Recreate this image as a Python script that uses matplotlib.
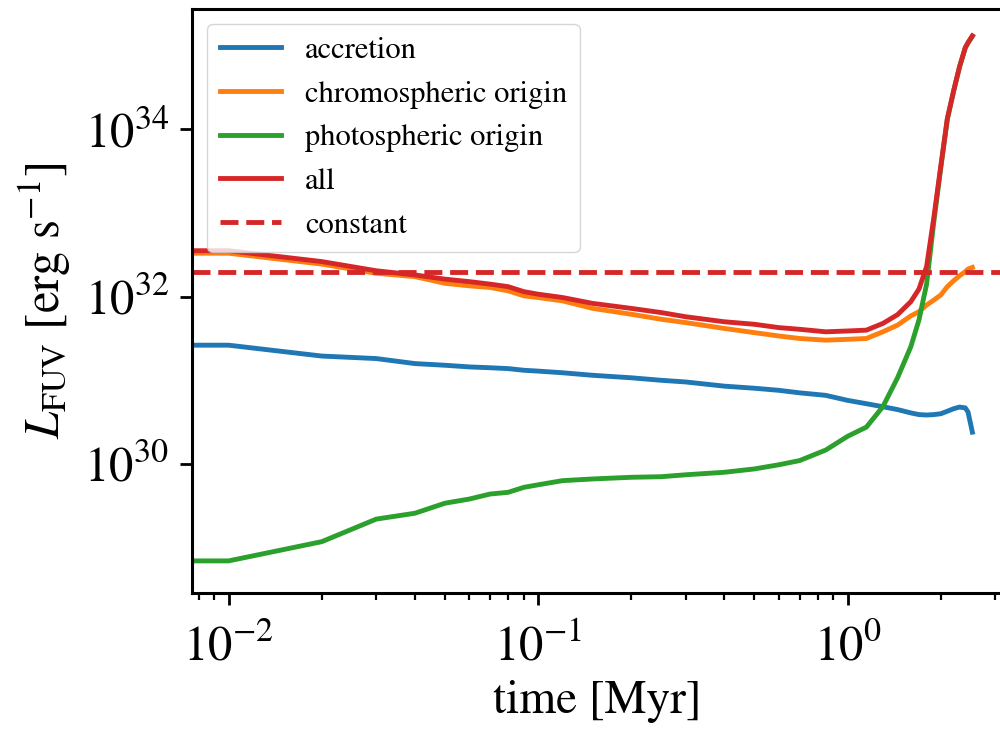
import numpy as np
import matplotlib
matplotlib.use("Agg")
import matplotlib.pyplot as plt
from matplotlib.ticker import NullLocator

plt.rcParams["font.family"] = "STIXGeneral"
plt.rcParams["mathtext.fontset"] = "stix"

# time grid [Myr]
time = [0.005, 0.01, 0.02, 0.03, 0.04, 0.05, 0.06, 0.07, 0.08, 0.09, 0.1,
        0.12, 0.15, 0.2, 0.25, 0.3, 0.4, 0.5, 0.6, 0.7, 0.85, 1.0, 1.15,
        1.3, 1.45, 1.6, 1.7, 1.8, 1.9, 2.0, 2.1, 2.2, 2.3, 2.4, 2.45, 2.53]

# log10 of the FUV luminosity [erg/s] for each contribution
log_acc = [31.42, 31.42, 31.29, 31.26, 31.20, 31.18, 31.16, 31.15, 31.14,
           31.12, 31.11, 31.09, 31.06, 31.03, 31.00, 30.98, 30.93, 30.905,
           30.88, 30.85, 30.82, 30.76, 30.72, 30.684, 30.65, 30.61, 30.59,
           30.585, 30.59, 30.60, 30.63, 30.66, 30.68, 30.67, 30.62, 30.38]
log_chromo = [32.52, 32.52, 32.39, 32.28, 32.24, 32.16, 32.13, 32.11, 32.07,
              32.01, 31.99, 31.95, 31.86, 31.79, 31.73, 31.69, 31.62, 31.57,
              31.53, 31.50, 31.48, 31.49, 31.50, 31.58, 31.66, 31.77, 31.82,
              31.90, 31.96, 32.02, 32.12, 32.19, 32.25, 32.30, 32.33, 32.35]
log_photo = [28.84, 28.84, 29.07, 29.34, 29.41, 29.53, 29.58, 29.64, 29.66,
             29.72, 29.75, 29.80, 29.82, 29.84, 29.847, 29.87, 29.90, 29.94,
             29.99, 30.04, 30.166, 30.33, 30.44, 30.684, 31.03, 31.40, 31.72,
             32.15, 32.90, 33.54, 34.12, 34.455, 34.75, 34.975, 35.035, 35.115]
log_all = [32.55, 32.55, 32.42, 32.31, 32.26, 32.21, 32.18, 32.15, 32.12,
           32.06, 32.03, 31.99, 31.92, 31.86, 31.81, 31.76, 31.70, 31.67,
           31.63, 31.61, 31.58, 31.59, 31.60, 31.68, 31.785, 31.94, 32.09,
           32.36, 32.95, 33.56, 34.13, 34.46, 34.75, 34.98, 35.04, 35.12]
L_const = 2e32

fig = plt.figure(figsize=(10, 7.31), dpi=100)
ax = fig.add_axes([0.192, 1 - 593 / 731, 0.810, (593 - 9) / 731])

lw = 3.5
ax.plot(time, 10 ** np.array(log_acc), color="#1f77b4", lw=lw, label="accretion")
ax.plot(time, 10 ** np.array(log_chromo), color="#ff7f0e", lw=lw, label="chromospheric origin")
ax.plot(time, 10 ** np.array(log_photo), color="#2ca02c", lw=lw, label="photospheric origin")
ax.plot(time, 10 ** np.array(log_all), color="#d62728", lw=lw, label="all")
ax.axhline(L_const, color="#d62728", lw=lw, ls="--", label="constant")

ax.set_xscale("log")
ax.set_yscale("log")
ax.set_xlim(10 ** -2.1183, 10 ** 0.4989)
ax.set_ylim(10 ** 28.456, 10 ** 35.441)
ax.set_yticks([1e30, 1e32, 1e34])
ax.yaxis.set_minor_locator(NullLocator())

ax.set_xlabel("time [Myr]", fontsize=34, labelpad=6)
ax.set_ylabel(r"$L_{\rm FUV}$ [erg s$^{-1}$]", fontsize=35, labelpad=8)
ax.tick_params(axis="both", which="major", labelsize=35, length=8.5, width=2)
ax.tick_params(axis="x", which="major", pad=15)
ax.tick_params(axis="y", which="major", pad=8)
ax.tick_params(axis="both", which="minor", length=5, width=1.6)
for sp in ax.spines.values():
    sp.set_linewidth(2.2)

ax.legend(loc="upper left", fontsize=22, handlelength=2.0, handletextpad=0.8)

fig.savefig("out.png", dpi=100)
